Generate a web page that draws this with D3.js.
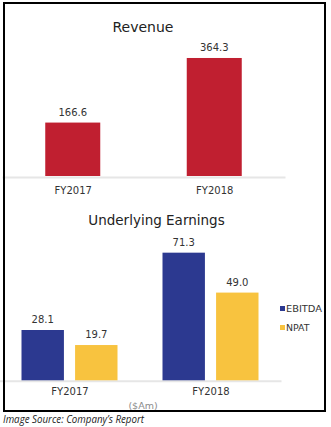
<!DOCTYPE html>
<html><head><meta charset="utf-8">
<script src="https://cdn.jsdelivr.net/npm/d3@7/dist/d3.min.js"></script>
<style>
html,body{margin:0;padding:0;background:#fff;}
text{font-family:"DejaVu Sans",Verdana,sans-serif;}
</style></head>
<body><svg id="c" width="331" height="427"></svg>
<script>
const categories = ["FY2017", "FY2018"];
const revenue = [166.6, 364.3];
const seriesNames = ["EBITDA", "NPAT"];
const ebitda = [28.1, 71.3];
const npat = [19.7, 49.0];
const unitLabel = "($Am)";
const sourceText = "Image Source: Company\u2019s Report";

const svg = d3.select("#c");
const RED = "#C01F30", BLUE = "#2C3990", YELLOW = "#F8C33F", AXIS = "#e6e6e6";
const FONT = '"DejaVu Sans",Verdana,sans-serif';

// ---- Revenue chart
const xr = d3.scalePoint().domain(categories).range([2, 285]).padding(0.5);
const yr = d3.scaleLinear().domain([0, 400]).range([177, 177 - 400 * 0.3267]);
const gTop = svg.append("g");
gTop.append("text").attr("x", 143).attr("y", 32).attr("text-anchor", "middle")
  .attr("font-size", 14).attr("fill", "#222").text("Revenue");
const axTop = gTop.append("g").attr("transform", `translate(0,${yr(0)})`)
  .call(d3.axisBottom(xr).tickSize(0).tickSizeOuter(0).tickPadding(10));
axTop.select(".domain").attr("stroke", AXIS).attr("stroke-width", 2);
axTop.selectAll("text").attr("font-size", 10).attr("fill", "#333").attr("font-family", FONT);
const bw = 55;
gTop.selectAll("rect.rev").data(revenue).join("rect").attr("class", "rev")
  .attr("x", (d, i) => xr(categories[i]) - bw / 2).attr("width", bw)
  .attr("y", d => yr(d)).attr("height", d => yr(0) - yr(d) - 1).attr("fill", RED);
gTop.selectAll("text.rv").data(revenue).join("text").attr("class", "rv")
  .attr("x", (d, i) => xr(categories[i])).attr("y", d => yr(d) - 7)
  .attr("text-anchor", "middle").attr("font-size", 10).attr("fill", "#333")
  .text(d => d.toFixed(1));

// ---- Underlying earnings chart
const x0 = d3.scalePoint().domain(categories).range([-1, 281]).padding(0.5);
const x1 = d3.scaleBand().domain(seriesNames).range([-48, 48]).paddingInner(10 / 48);
const yb = d3.scaleLinear().domain([0, 80]).range([380.3, 380.3 - 80 * 1.79]);
const color = d3.scaleOrdinal().domain(seriesNames).range([BLUE, YELLOW]);
const gBot = svg.append("g");
gBot.append("text").attr("x", 156.5).attr("y", 225).attr("text-anchor", "middle")
  .attr("font-size", 13.5).attr("fill", "#222").text("Underlying Earnings");
const axBot = gBot.append("g").attr("transform", `translate(0,${yb(0) + 0.5})`)
  .call(d3.axisBottom(x0).tickSize(0).tickSizeOuter(0).tickPadding(7.5));
axBot.select(".domain").attr("stroke", AXIS).attr("stroke-width", 2);
axBot.selectAll("text").attr("font-size", 10).attr("fill", "#333").attr("font-family", FONT);
const rows = [];
categories.forEach((c, i) => {
  rows.push({cat: c, s: "EBITDA", v: ebitda[i]});
  rows.push({cat: c, s: "NPAT", v: npat[i]});
});
gBot.selectAll("rect.e").data(rows).join("rect").attr("class", "e")
  .attr("x", d => x0(d.cat) + x1(d.s)).attr("width", x1.bandwidth())
  .attr("y", d => yb(d.v)).attr("height", d => yb(0) - yb(d.v)).attr("fill", d => color(d.s));
gBot.selectAll("text.ev").data(rows).join("text").attr("class", "ev")
  .attr("x", d => x0(d.cat) + x1(d.s) + x1.bandwidth() / 2).attr("y", d => yb(d.v) - 7)
  .attr("text-anchor", "middle").attr("font-size", 10).attr("fill", "#333")
  .text(d => d.v.toFixed(1));

// legend
const lg = gBot.selectAll("g.lg").data(seriesNames).join("g").attr("class", "lg")
  .attr("transform", (d, i) => `translate(280,${306 + i * 19})`);
lg.append("rect").attr("width", 5).attr("height", 5).attr("fill", d => color(d));
lg.append("text").attr("x", 6).attr("y", 5.5).attr("font-size", 9).attr("fill", "#333")
  .attr("textLength", (d, i) => [36, 23.5][i]).attr("lengthAdjust", "spacingAndGlyphs")
  .text(d => d);

// unit label
svg.append("text").attr("x", 143).attr("y", 409).attr("text-anchor", "middle")
  .attr("font-size", 9.5).attr("fill", "#8c8c8c").text(unitLabel);

// border
svg.append("rect").attr("x", 4).attr("y", 3).attr("width", 321).attr("height", 408)
  .attr("fill", "none").attr("stroke", "#000").attr("stroke-width", 2);

// source
svg.append("text").attr("x", 3).attr("y", 423).attr("font-size", 10)
  .attr("font-style", "italic").attr("fill", "#222")
  .style("font-family", '"Open Sans",sans-serif')
  .attr("textLength", 141).attr("lengthAdjust", "spacingAndGlyphs").text(sourceText);
</script></body></html>
